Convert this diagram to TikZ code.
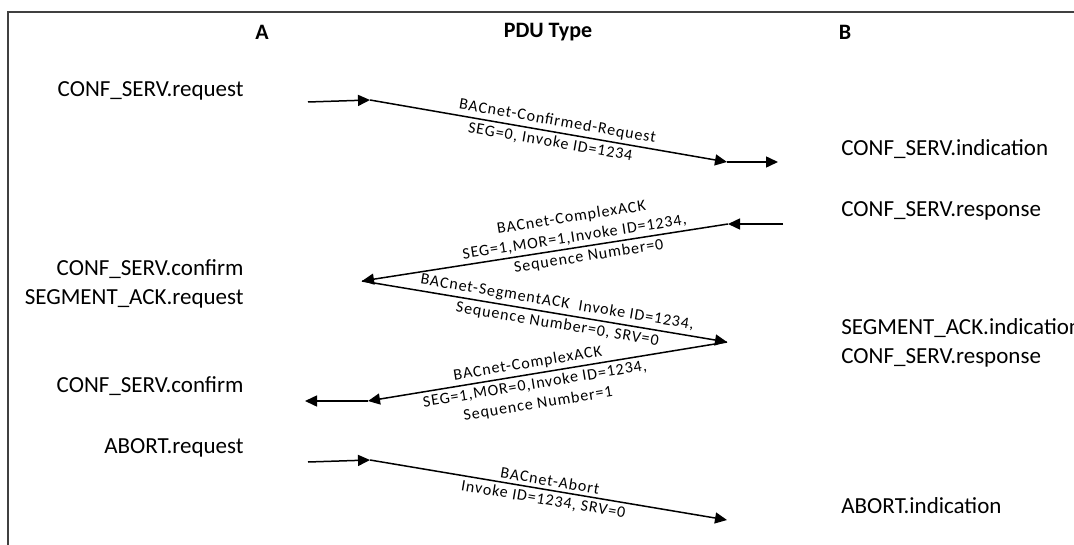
\documentclass[tikz,border=0pt]{standalone}
\usepackage{fontspec}
\setmainfont{Carlito}
\newfontfamily\pdufont[LetterSpace=6]{Carlito}
\usetikzlibrary{positioning}
\usetikzlibrary {arrows.meta}
\tikzset{prim/.style={inner sep=1pt,font=\fontsize{11.5}{13}\selectfont,
text height=8pt,text depth=2.5pt}}
\tikzset{primA/.style={prim,anchor=east}}
\tikzset{primB/.style={prim,anchor=west}}
\tikzset{colhead/.style={inner sep=1pt,font=\fontsize{11}{13}\selectfont\bfseries}}
\tikzset{pdu/.style={sloped,inner sep=1.6pt,align=center,
font=\pdufont\fontsize{8}{10}\selectfont}}
\tikzset{msg/.style={line width=0.75pt,-{Triangle[length=6pt,width=5.5pt]}}}

\begin{document}
\begin{tikzpicture}[x=0.5pt,y=-0.5pt]
        \useasboundingbox (0,0) rectangle (1074,545);
        \draw[line width=0.8pt,black!75] (8,545) -- (8,12) -- (1074,12);

        \node[colhead] (colA) at (262,32) {A};
        \node[colhead] (colPdu) at (548,32) {PDU Type};
        \node[colhead] (colB) at (845,32) {B};

        % primitives at A
        \node[primA] (reqA) at (246,91) {CONF\_SERV.request};
        \node[primA] (cnfA) at (246,270) {CONF\_SERV.confirm};
        \node[primA] (segA) at ([yshift=-14.5pt]cnfA.east) {SEGMENT\_ACK.request};
        \node[primA] (cnfAtwo) at (246,387) {CONF\_SERV.confirm};
        \node[primA] (abtA) at (246,448) {ABORT.request};

        % primitives at B
        \node[primB] (indB) at (839,150) {CONF\_SERV.indication};
        \node[primB] (rspB) at (839,211) {CONF\_SERV.response};
        \node[primB] (segB) at (839,329) {SEGMENT\_ACK.indication};
        \node[primB] (rspBtwo) at ([yshift=-14.5pt]segB.west) {CONF\_SERV.response};
        \node[primB] (abtB) at (839,508) {ABORT.indication};

        \coordinate (reqIn) at (308,102);
        \coordinate (reqOut) at (370,100);
        \coordinate (indIn) at (727,162);
        \coordinate (indOut) at (778,162);
        \coordinate (rspIn) at (783,224);
        \coordinate (rspOut) at (728,224);
        \coordinate (cnfIn) at (362,281);
        \coordinate (segIn) at (727,342);
        \coordinate (cnfOut) at (368,401);
        \coordinate (cnfEnd) at (305,401);
        \coordinate (abtIn) at (308,462);
        \coordinate (abtOut) at (370,460);
        \coordinate (abtInd) at (727,520);

        \draw[msg] (reqIn) -- (reqOut);
        \draw[msg] (reqOut) -- node[pdu,above,pos=0.52] (pduReqA) {BACnet-Confirmed-Request}
              node[pdu,below,pos=0.51] (pduReqB) {SEG=0, Invoke ID=1234} (indIn);
        \draw[msg] (indIn) -- (indOut);

        \draw[msg] (rspIn) -- (rspOut);
        \draw[msg] (rspOut) -- node[pdu,above,pos=0.415] (pduAckA) {BACnet-ComplexACK\\SEG=1,MOR=1,Invoke ID=1234,}
              node[pdu,below,pos=0.385] (pduAckB) {Sequence Number=0} (cnfIn);

        \draw[msg] (cnfIn) -- node[pdu,above,pos=0.53] (pduSegA) {BACnet-SegmentACK\ \ Invoke ID=1234,}
              node[pdu,below,pos=0.54] (pduSegB) {Sequence Number=0, SRV=0} (segIn);

        \draw[msg] (segIn) -- node[pdu,above,pos=0.55] (pduAckC) {BACnet-ComplexACK}
              node[pdu,below,pos=0.54] (pduAckD) {SEG=1,MOR=0,Invoke ID=1234,\\Sequence Number=1} (cnfOut);
        \draw[msg] (cnfOut) -- (cnfEnd);

        \draw[msg] (abtIn) -- (abtOut);
        \draw[msg] (abtOut) -- node[pdu,above,pos=0.5] (pduAbtA) {BACnet-Abort}
              node[pdu,below,pos=0.49] (pduAbtB) {Invoke ID=1234, SRV=0} (abtInd);

\end{tikzpicture}
\end{document}
